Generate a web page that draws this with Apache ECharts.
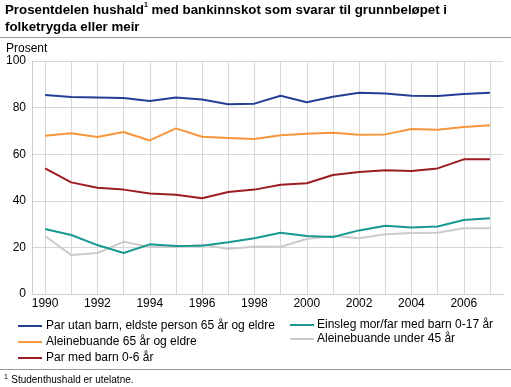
<!DOCTYPE html>
<html><head><meta charset="utf-8">
<script src="https://cdn.jsdelivr.net/npm/echarts@6/dist/echarts.min.js"></script>
<style>html,body{margin:0;padding:0;background:#fff}#c{width:511px;height:387px}</style>
</head><body><div id="c"></div>
<script>
const years = ['1990','1991','1992','1993','1994','1995','1996','1997','1998','1999','2000','2001','2002','2003','2004','2005','2006','2007'];
const yTicks = [0, 20, 40, 60, 80, 100];
const parUtanBarn = [85.4,84.5,84.3,84.1,82.8,84.3,83.5,81.4,81.7,85.1,82.3,84.7,86.4,86.1,85.1,85.0,85.8,86.4];
const aleine65 = [67.9,69.0,67.4,69.5,65.9,71.1,67.5,67.0,66.5,68.1,68.8,69.2,68.4,68.5,70.8,70.5,71.7,72.4];
const parMedBarn = [53.9,47.9,45.6,44.8,43.1,42.6,41.1,43.8,44.8,46.9,47.5,51.1,52.4,53.1,52.8,53.9,57.8,57.8];
const einsleg = [27.9,25.3,21.0,17.6,21.3,20.6,20.7,22.2,23.9,26.3,24.9,24.5,27.3,29.3,28.5,29.0,31.8,32.5];
const aleineUnder45 = [24.9,16.7,17.6,22.4,20.2,20.2,21.3,19.3,20.4,20.3,23.6,24.9,23.9,25.6,26.2,26.3,28.2,28.2];
const names = ['Par utan barn, eldste person 65 år og eldre','Aleinebuande 65 år og eldre','Par med barn 0-6 år','Einsleg mor/far med barn 0-17 år','Aleinebuande under 45 år'];
const colors = ['#233f96','#f7963a','#9c1c22','#17998f','#cccccc'];
const seriesData = [parUtanBarn, aleine65, parMedBarn, einsleg, aleineUnder45];

const chart = echarts.init(document.getElementById('c'), null, {renderer:'canvas'});
const font = 'Liberation Sans, Arial, sans-serif';
chart.setOption({
  animation:false,
  backgroundColor:'#fff',
  textStyle:{fontFamily:font},
  title:{
    text:'{t|Prosentdelen hushald}{s|1}{t| med bankinnskot som svarar til grunnbeløpet i}\n{t|folketrygda eller meir}',
    left:5, top:2, padding:0,
    textStyle:{rich:{
      t:{fontFamily:font,fontSize:13.3,fontWeight:'bold',color:'#000',lineHeight:17},
      s:{fontFamily:font,fontSize:7,fontWeight:'bold',color:'#000',verticalAlign:'top',lineHeight:17,padding:[0,0,6,0]}
    }}
  },
  graphic:[
    {type:'line',shape:{x1:0,y1:37.5,x2:511,y2:37.5},style:{stroke:'#999',lineWidth:1}},
    {type:'line',shape:{x1:0,y1:369.5,x2:511,y2:369.5},style:{stroke:'#999',lineWidth:1}},
    {type:'text',left:6,top:43,style:{text:'Prosent',font:'12px '+font,fill:'#000'}},
    {type:'text',left:4,top:374,style:{text:'{s|1} {t|Studenthushald er utelatne.}',rich:{
      s:{fontFamily:font,fontSize:7,fill:'#000',verticalAlign:'top'},
      t:{fontFamily:font,fontSize:10,fill:'#000'}}}}
  ],
  grid:{left:32,right:8,top:61,bottom:93,containLabel:false},
  legend:[
    {data:names.slice(0,3),orient:'vertical',left:13,top:315,itemWidth:24,itemHeight:2,itemGap:4,icon:'rect',
     textStyle:{fontFamily:font,fontSize:12,color:'#000',padding:[0,0,0,-1]}},
    {data:names.slice(3),orient:'vertical',left:285,top:314,itemWidth:24,itemHeight:2,itemGap:2,icon:'rect',
     textStyle:{fontFamily:font,fontSize:12,color:'#000',padding:[0,0,0,-2]}}
  ],
  xAxis:{type:'category',data:years,boundaryGap:true,
    axisLine:{show:true,lineStyle:{color:'#ccc'}},
    axisTick:{show:false},
    axisLabel:{interval:1,color:'#000',fontSize:12,fontFamily:font,margin:4},
    splitLine:{show:true,interval:0,alignWithLabel:true,lineStyle:{color:'#d6d6d6',width:1}}
  },
  yAxis:{type:'value',min:yTicks[0],max:yTicks[yTicks.length-1],interval:20,
    axisLine:{show:true,lineStyle:{color:'#ccc'}},
    axisTick:{show:false},
    axisLabel:{color:'#000',fontSize:12,fontFamily:font,margin:6},
    splitLine:{show:true,lineStyle:{color:'#d6d6d6',width:1}}
  },
  series: names.map((n,i)=>({name:n,type:'line',data:seriesData[i],symbol:'none',
    lineStyle:{color:colors[i],width:2},itemStyle:{color:colors[i]},z:10-i}))
});
</script></body></html>
